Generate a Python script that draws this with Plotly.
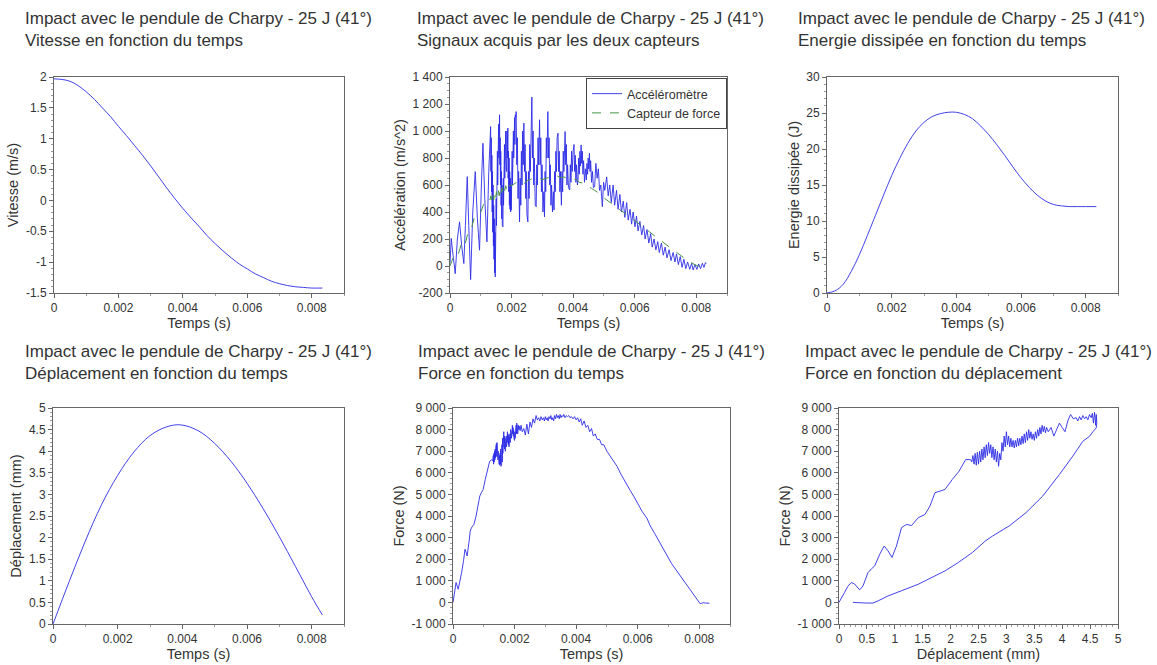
import numpy as np
import plotly.graph_objects as go

# ---------------- DATA ----------------
title_main = "Impact avec le pendule de Charpy - 25 J (41°)"
subtitles = ["Vitesse en fonction du temps", "Signaux acquis par les deux capteurs",
             "Energie dissipée en fonction du temps", "Déplacement en fonction du temps",
             "Force en fonction du temps", "Force en fonction du déplacement"]

# Velocity (m/s) vs time (ms)
vit_t = [0, 0.25, 0.5, 0.75, 1.0, 1.25, 1.5, 1.75, 2.0, 2.25, 2.5, 2.75, 3.0, 3.25, 3.5, 3.75, 4.0,
         4.25, 4.5, 4.75, 5.0, 5.25, 5.5, 5.75, 6.0, 6.25, 6.5, 6.75, 7.0, 7.25, 7.5, 7.75, 8.0, 8.33]
vit_v = [1.97, 1.96, 1.93, 1.86, 1.76, 1.64, 1.50, 1.36, 1.20, 1.05, 0.89, 0.73, 0.56, 0.38, 0.20, 0.03, -0.13,
         -0.28, -0.42, -0.57, -0.70, -0.82, -0.93, -1.03, -1.11, -1.19, -1.25, -1.31, -1.35, -1.38, -1.40, -1.41, -1.42, -1.42]

# Energy (J) vs time (ms)
ener_t = [0, 0.25, 0.5, 0.75, 1.0, 1.25, 1.5, 1.75, 2.0, 2.25, 2.5, 2.75, 3.0, 3.25, 3.5, 3.75, 4.0,
          4.25, 4.5, 4.75, 5.0, 5.25, 5.5, 5.75, 6.0, 6.25, 6.5, 6.75, 7.0, 7.25, 7.5, 7.75, 8.0, 8.33]
ener_v = [0, 0.3, 1.2, 3.0, 5.3, 8.0, 10.8, 13.6, 16.3, 18.7, 20.8, 22.5, 23.7, 24.5, 24.9, 25.1, 25.1,
          24.8, 24.2, 23.2, 22.0, 20.6, 19.1, 17.5, 16.0, 14.7, 13.6, 12.8, 12.3, 12.1, 12.0, 12.0, 12.0, 12.0]

# Displacement (mm) vs time (ms)
depl_t = [0, 0.5, 1.0, 1.5, 2.0, 2.5, 3.0, 3.5, 3.95, 4.5, 5.0, 5.5, 6.0, 6.5, 7.0, 7.5, 8.0, 8.33]
depl_v = [0, 0.98, 1.92, 2.76, 3.44, 3.98, 4.36, 4.56, 4.61, 4.47, 4.18, 3.77, 3.26, 2.67, 2.02, 1.33, 0.63, 0.21]

# Accelerometer (m/s^2) vs time (ms)
acc_t = [0.00, 0.04, 0.10, 0.17, 0.24, 0.31, 0.38, 0.45, 0.50, 0.56, 0.61, 0.67, 0.74, 0.82, 0.89, 0.96,
         1.02, 1.07, 1.13, 1.20, 1.26,
         1.32, 1.33, 1.34, 1.35, 1.36, 1.37, 1.38, 1.39, 1.40, 1.41, 1.42, 1.43, 1.44, 1.45, 1.46, 1.47,
         1.48, 1.49, 1.50, 1.51, 1.52, 1.53, 1.54, 1.55, 1.56, 1.57, 1.58, 1.59, 1.60, 1.61, 1.62, 1.63,
         1.64, 1.65, 1.66, 1.67, 1.68, 1.69, 1.70, 1.71, 1.72, 1.73, 1.74, 1.75, 1.76, 1.77, 1.78, 1.79,
         1.80, 1.81, 1.82, 1.83, 1.84, 1.85, 1.86, 1.87, 1.88, 1.89, 1.90, 1.91, 1.92, 1.93, 1.94, 1.95,
         1.96, 1.97, 1.98, 1.99, 2.00, 2.01, 2.02, 2.03, 2.04, 2.05, 2.06, 2.07, 2.08, 2.09, 2.10, 2.11,
         2.12, 2.13, 2.14, 2.15,
         2.17, 2.19, 2.21, 2.23, 2.26, 2.28, 2.30, 2.32, 2.34, 2.36, 2.38, 2.40, 2.42, 2.44, 2.46, 2.48,
         2.50, 2.53, 2.55, 2.57, 2.59, 2.61, 2.63, 2.66, 2.68, 2.70, 2.72, 2.74, 2.77, 2.80, 2.82, 2.84,
         2.86, 2.88, 2.91, 2.93, 2.95, 2.97, 2.99, 3.02, 3.05, 3.07, 3.09, 3.11, 3.13, 3.15, 3.18, 3.20,
         3.22, 3.24, 3.26, 3.28, 3.30, 3.33, 3.36, 3.38, 3.40, 3.42, 3.44, 3.46, 3.48, 3.51, 3.53, 3.55,
         3.57, 3.59, 3.62, 3.64, 3.66, 3.68, 3.70, 3.72, 3.74, 3.76, 3.78, 3.80, 3.82, 3.85, 3.89, 3.91,
         3.93, 3.95, 3.97, 4.00, 4.03, 4.05, 4.07, 4.09, 4.11, 4.14, 4.16, 4.18, 4.20, 4.22, 4.24, 4.26,
         4.28, 4.30, 4.32, 4.34, 4.37, 4.40, 4.43, 4.45, 4.47, 4.49, 4.51, 4.53, 4.55, 4.57, 4.60, 4.63,
         4.66, 4.70,
         4.74, 4.78, 4.82, 4.86, 4.90, 4.95, 4.99, 5.03, 5.09, 5.14, 5.19, 5.24, 5.30, 5.35, 5.41, 5.46,
         5.52, 5.57, 5.63, 5.68, 5.74, 5.79, 5.85, 5.90, 5.95, 6.01, 6.06, 6.11, 6.17, 6.23, 6.29, 6.34,
         6.40, 6.46, 6.52, 6.57, 6.63, 6.69, 6.75, 6.80, 6.87, 6.93, 6.99, 7.05, 7.12, 7.18, 7.25, 7.31,
         7.36, 7.42, 7.48, 7.54, 7.60, 7.66, 7.72, 7.79, 7.85, 7.90, 7.96, 8.02, 8.08, 8.14, 8.20, 8.25,
         8.30, 8.33]
acc_v = [18, 204, 80, -57, 200, 327, 150, 18, 300, 662, 300, -101, 400, 699, 350, 117,
         600, 909, 500, 179, 700,
         1033, 700, 950, 550, 820, 400, 700, 250, 600, 150, 450, 50, 350, -50, 250, -81,
         350, 150, 500, 300, 700, 450, 850, 600, 950, 700, 1050, 800, 1100, 1120, 750, 950,
         600, 850, 450, 700, 350, 600, 300, 550, 290, 650, 450, 800, 550, 900, 650, 950,
         700, 1000, 750, 950, 700, 1000, 800, 950, 1021, 650, 850, 550, 800, 450, 700, 420,
         650, 400, 600, 414, 700, 500, 850, 600, 950, 700, 1000, 800, 1050, 850, 1100, 900,
         1120, 950, 1100, 1144,
         750, 950, 500, 700, 327, 650, 450, 850, 600, 1000, 750, 1058, 700, 900, 500, 700,
         380, 327, 700, 500, 900, 700, 1100, 1251, 800, 1000, 600, 800, 450, 439, 750, 600,
         950, 750, 1083, 750, 950, 550, 750, 400, 550, 365, 700, 550, 950, 800, 1144, 800,
         950, 600, 750, 450, 600, 400, 550, 414, 700, 550, 850, 700, 950, 984, 700, 850,
         550, 700, 450, 700, 550, 850, 700, 950, 996, 750, 900, 600, 750, 580, 563, 750,
         620, 850, 700, 850, 900, 700, 820, 620, 750, 600, 637, 800, 680, 850, 740, 897,
         760, 850, 680, 780, 620, 720, 637, 760, 680, 800, 720, 835, 700, 780, 620, 700,
         580, 587,
         760, 650, 720, 560, 600, 439, 620, 560, 660, 520, 600, 470, 600, 450, 560, 420,
         530, 400, 480, 360, 470, 340, 420, 310, 400, 290, 370, 260, 330, 230, 300, 200,
         270, 170, 240, 140, 200, 120, 180, 100, 170, 80, 140, 60, 120, 40, 100, 30,
         90, 10, 70, -10, 50, -20, 30, -25, 20, -30, 10, -25, 15, -20, 20, -10,
         25, 20]

# Force sensor expressed as acceleration (m/s^2) vs time (ms)
cap_t = [0.00, 0.10, 0.20, 0.30, 0.40, 0.50, 0.60, 0.70, 0.80, 0.90, 1.00, 1.10, 1.20, 1.25, 1.30, 1.33,
         1.36, 1.39, 1.42, 1.45, 1.48, 1.51, 1.54, 1.57, 1.60, 1.63, 1.66, 1.69, 1.72, 1.75, 1.78, 1.81,
         1.84, 1.87, 1.90, 1.95, 2.00, 2.10, 2.20, 2.30, 2.40, 2.50, 2.60, 2.70, 2.80, 2.90, 3.00, 3.10,
         3.20, 3.30, 3.40, 3.50, 3.60, 3.70, 3.80, 3.90, 4.00, 4.10, 4.20, 4.30, 4.40, 4.50, 4.60, 4.70,
         4.80, 5.00, 5.25, 5.50, 5.75, 6.00, 6.25, 6.50, 6.75, 7.00, 7.25, 7.50, 7.75, 8.00, 8.15, 8.33]
cap_v = [0, 60, 50, 110, 190, 170, 260, 280, 370, 380, 400, 460, 495, 500, 490, 520,
         480, 530, 490, 540, 500, 550, 510, 560, 520, 575, 540, 580, 550, 590, 560, 595,
         570, 600, 580, 600, 595, 610, 625, 605, 610, 630, 640, 650, 645, 650, 640, 650,
         655, 650, 660, 665, 655, 660, 650, 655, 645, 640, 620, 615, 600, 590, 575, 560,
         545, 505, 460, 420, 380, 338, 295, 250, 205, 163, 120, 76, 35, 5, -5, 0]

# Force (N) vs time (ms)
force_t = [0.00, 0.05, 0.10, 0.17, 0.22, 0.28, 0.34, 0.39, 0.43, 0.46, 0.52, 0.56, 0.60, 0.68, 0.75, 0.82,
           0.87, 0.93, 0.98, 1.05, 1.12, 1.19, 1.25, 1.29, 1.31, 1.32, 1.33, 1.34, 1.35, 1.36, 1.37, 1.38,
           1.39, 1.40, 1.41, 1.42, 1.43, 1.44, 1.45, 1.46, 1.47, 1.48, 1.49, 1.50, 1.51, 1.52, 1.53, 1.54,
           1.55, 1.56, 1.57, 1.58, 1.59, 1.60, 1.61, 1.62, 1.63, 1.64, 1.65, 1.66, 1.67, 1.68, 1.69, 1.70,
           1.71, 1.72, 1.73, 1.74, 1.75, 1.76, 1.77, 1.78, 1.79, 1.80, 1.81, 1.82, 1.83, 1.84, 1.85, 1.86,
           1.87, 1.88, 1.89, 1.90, 1.91, 1.92, 1.93, 1.94, 1.95, 1.96, 1.97, 1.98, 1.99, 2.00, 2.01, 2.02,
           2.03, 2.04, 2.05, 2.06, 2.07, 2.08, 2.09, 2.10, 2.11, 2.12, 2.13, 2.14, 2.16, 2.18, 2.21, 2.25,
           2.30, 2.35, 2.40, 2.45, 2.50, 2.55, 2.60, 2.65, 2.70, 2.74, 2.78, 2.82, 2.86, 2.90, 2.94, 2.97,
           3.00, 3.03, 3.06, 3.09, 3.12, 3.15, 3.18, 3.21, 3.24, 3.27, 3.30, 3.33, 3.36, 3.39, 3.42, 3.45,
           3.48, 3.51, 3.54, 3.57, 3.60, 3.64, 3.68, 3.72, 3.76, 3.80, 3.85, 3.90, 3.95, 4.00, 4.05, 4.10,
           4.15, 4.20, 4.26, 4.32, 4.38, 4.44, 4.50, 4.56, 4.62, 4.69, 4.76, 4.83, 4.90, 5.00, 5.10, 5.20,
           5.33, 5.45, 5.60, 5.75, 5.87, 6.00, 6.15, 6.30, 6.41, 6.55, 6.70, 6.85, 6.95, 7.10, 7.25, 7.35,
           7.48, 7.60, 7.75, 7.88, 7.97, 8.03, 8.08, 8.13, 8.20, 8.27, 8.33]
force_v = [0, 400, 920, 610, 900, 1380, 1900, 2460, 2300, 2150, 2800, 3300, 3460, 3610, 4000, 4600,
           4920, 5100, 5230, 5700, 6200, 6530, 6600, 6550, 6800, 6400, 6900, 6500, 7000, 6600, 7100, 6700,
           7200, 6800, 7350, 6750, 7400, 6900, 7200, 6600, 7000, 6500, 6900, 6400, 6800, 6350, 6900, 6400,
           7100, 6300, 7000, 6400, 7300, 6500, 7600, 6900, 7800, 7100, 7900, 7200, 7700, 7100, 7600, 7000,
           7500, 7100, 7700, 7200, 7800, 7300, 7900, 7400, 7800, 7300, 7700, 7200, 7600, 7300, 7800, 7400,
           8000, 7500, 7900, 7600, 8100, 7700, 8200, 7800, 8100, 7700, 8000, 7600, 7900, 7500, 7900, 7600,
           8000, 7700, 8200, 7800, 8300, 7900, 8200, 7800, 8100, 7900, 8200, 8000, 8150, 7950, 8200, 7900,
           8050, 7750, 8250, 7800, 8350, 8100, 8500, 8300, 8650, 8450, 8550, 8400, 8600, 8450, 8550, 8400,
           8600, 8450, 8550, 8400, 8600, 8500, 8650, 8450, 8550, 8400, 8650, 8500, 8700, 8550, 8650, 8500,
           8700, 8550, 8650, 8600, 8700, 8550, 8650, 8600, 8650, 8550, 8600, 8500, 8600, 8450, 8550, 8350,
           8500, 8200, 8400, 8100, 8200, 7900, 8050, 7700, 7800, 7540, 7550, 7300, 7300, 7000, 6800, 6550,
           6300, 5950, 5550, 5200, 4920, 4600, 4200, 3900, 3540, 3200, 2800, 2400, 2150, 1800, 1500, 1300,
           1000, 750, 450, 200, 30, -60, -40, -10, -30, -20, -40]

# Force (N) vs displacement (mm)
fd_x = [0.00, 0.05, 0.10, 0.16, 0.22, 0.28, 0.33, 0.37, 0.43, 0.52, 0.58, 0.64, 0.73, 0.81, 0.88, 0.95,
        1.03, 1.12, 1.21, 1.30, 1.42, 1.54, 1.63, 1.72, 1.81, 1.90, 2.03, 2.15, 2.27, 2.36, 2.38, 2.40,
        2.42, 2.44, 2.46, 2.48, 2.50, 2.52, 2.54, 2.56, 2.58, 2.60, 2.62, 2.64, 2.66, 2.68, 2.70, 2.72,
        2.74, 2.76, 2.78, 2.80, 2.82, 2.84, 2.86, 2.88, 2.90, 2.92, 2.94, 2.96, 2.98, 3.00, 3.02, 3.04,
        3.06, 3.08, 3.10, 3.12, 3.14, 3.16, 3.18, 3.20, 3.22, 3.24, 3.26, 3.28, 3.30, 3.32, 3.34, 3.36,
        3.38, 3.40, 3.42, 3.44, 3.46, 3.48, 3.50, 3.52, 3.54, 3.56, 3.58, 3.60, 3.62, 3.64, 3.66, 3.68,
        3.70, 3.72, 3.75, 3.80, 3.85, 3.90, 3.95, 4.00, 4.05, 4.10, 4.15, 4.20, 4.25, 4.28, 4.31, 4.34,
        4.37, 4.40, 4.43, 4.46, 4.49, 4.52, 4.54, 4.56, 4.58, 4.60, 4.61, 4.62, 4.61, 4.55, 4.49, 4.37,
        4.19, 3.95, 3.65, 3.35, 3.05, 2.75, 2.62, 2.39, 2.14, 1.90, 1.66, 1.42, 1.12, 0.88, 0.70, 0.61,
        0.49, 0.40, 0.25]
fd_y = [0, 200, 460, 750, 920, 850, 680, 580, 760, 1380, 1550, 1690, 2230, 2610, 2380, 2080,
        2610, 3460, 3610, 3560, 3920, 4070, 4460, 5080, 5150, 5230, 5690, 6070, 6610, 6610, 6500, 6800,
        6400, 6900, 6350, 6950, 6400, 7000, 6500, 7100, 6600, 7200, 6700, 7300, 6800, 7400, 6900, 7300,
        6700, 7200, 6600, 7100, 6500, 7000, 6300, 6900, 6600, 7400, 7000, 7700, 7200, 7900, 7300, 7700,
        7200, 7600, 7200, 7500, 7150, 7500, 7200, 7600, 7250, 7600, 7300, 7700, 7350, 7800, 7400, 7900,
        7500, 8000, 7600, 7900, 7550, 7800, 7500, 7900, 7600, 8000, 7700, 8100, 7800, 8200, 7900, 8150,
        7850, 8100, 7900, 8100, 7700, 8000, 8300, 8100, 7900, 8400, 8700, 8500, 8550, 8400, 8600, 8450,
        8650, 8500, 8600, 8450, 8700, 8550, 8750, 8300, 8800, 8200, 8700, 8300, 8080, 7900, 7690, 7460,
        6770, 5920, 4920, 4150, 3540, 3070, 2840, 2310, 1850, 1460, 1150, 840, 540, 300, 70, -30,
        -30, -30, 0]

# Tick values / labels
t_ticks = [0, 0.002, 0.004, 0.006, 0.008]
t_labels = ["0", "0.002", "0.004", "0.006", "0.008"]
vit_ticks = [-1.5, -1, -0.5, 0, 0.5, 1, 1.5, 2]
vit_labels = ["-1.5", "-1", "-0.5", "0", "0.5", "1", "1.5", "2"]
acc_ticks = [-200, 0, 200, 400, 600, 800, 1000, 1200, 1400]
acc_labels = ["-200", "0", "200", "400", "600", "800", "1 000", "1 200", "1 400"]
ener_ticks = [0, 5, 10, 15, 20, 25, 30]
ener_labels = ["0", "5", "10", "15", "20", "25", "30"]
depl_ticks = [0, 0.5, 1, 1.5, 2, 2.5, 3, 3.5, 4, 4.5, 5]
depl_labels = ["0", "0.5", "1", "1.5", "2", "2.5", "3", "3.5", "4", "4.5", "5"]
force_ticks = [-1000, 0, 1000, 2000, 3000, 4000, 5000, 6000, 7000, 8000, 9000]
force_labels = ["-1 000", "0", "1 000", "2 000", "3 000", "4 000", "5 000", "6 000", "7 000", "8 000", "9 000"]

# ---------------- FIGURE ----------------
W, H = 1157, 665
BLUE = "rgb(45,45,230)"
GREEN = "rgb(70,150,70)"
FONT = "Arial, 'Liberation Sans', sans-serif"
TXT = "#333"

def ms(a):
    return np.array(a) / 1000.0

fig = go.Figure()
fig.add_trace(go.Scatter(x=ms(vit_t), y=vit_v, mode="lines", line=dict(color=BLUE, width=0.9, shape="spline"),
                         showlegend=False, xaxis="x", yaxis="y"))
fig.add_trace(go.Scatter(x=ms(acc_t), y=acc_v, mode="lines", name="Accéléromètre",
                         line=dict(color=BLUE, width=0.9), xaxis="x2", yaxis="y2"))
fig.add_trace(go.Scatter(x=ms(cap_t), y=cap_v, mode="lines", name="Capteur de force",
                         line=dict(color=GREEN, width=1, dash="dash"), xaxis="x2", yaxis="y2"))
fig.add_trace(go.Scatter(x=ms(ener_t), y=ener_v, mode="lines", line=dict(color=BLUE, width=0.9, shape="spline"),
                         showlegend=False, xaxis="x3", yaxis="y3"))
fig.add_trace(go.Scatter(x=ms(depl_t), y=depl_v, mode="lines", line=dict(color=BLUE, width=0.9, shape="spline"),
                         showlegend=False, xaxis="x4", yaxis="y4"))
fig.add_trace(go.Scatter(x=ms(force_t), y=force_v, mode="lines", line=dict(color=BLUE, width=0.9),
                         showlegend=False, xaxis="x5", yaxis="y5"))
fig.add_trace(go.Scatter(x=fd_x, y=fd_y, mode="lines", line=dict(color=BLUE, width=0.9),
                         showlegend=False, xaxis="x6", yaxis="y6"))

# plot areas in pixels: (left, right, top, bottom)
areas = [(54, 344, 77, 293), (450, 727, 77, 293), (827, 1118, 77, 293),
         (53, 344, 408, 624), (453, 730, 408, 624), (839, 1118, 408, 624)]

xspecs = [
    dict(range=[0, 0.009], tickvals=t_ticks, ticktext=t_labels, title="Temps (s)", minor_dtick=0.001),
    dict(range=[0, 0.009], tickvals=t_ticks, ticktext=t_labels, title="Temps (s)", minor_dtick=0.001),
    dict(range=[0, 0.009], tickvals=t_ticks, ticktext=t_labels, title="Temps (s)", minor_dtick=0.001),
    dict(range=[0, 0.009], tickvals=t_ticks, ticktext=t_labels, title="Temps (s)", minor_dtick=0.001),
    dict(range=[0, 0.009], tickvals=t_ticks, ticktext=t_labels, title="Temps (s)", minor_dtick=0.001),
    dict(range=[0, 5], tickvals=depl_ticks, ticktext=depl_labels, title="Déplacement (mm)", minor_dtick=0.1),
]
yspecs = [
    dict(range=[-1.5, 2], tickvals=vit_ticks, ticktext=vit_labels, title="Vitesse (m/s)", minor_dtick=0.1),
    dict(range=[-200, 1400], tickvals=acc_ticks, ticktext=acc_labels, title="Accélération (m/s^2)", minor_dtick=50),
    dict(range=[0, 30], tickvals=ener_ticks, ticktext=ener_labels, title="Energie dissipée (J)", minor_dtick=1),
    dict(range=[0, 5], tickvals=depl_ticks, ticktext=depl_labels, title="Déplacement (mm)", minor_dtick=0.1),
    dict(range=[-1000, 9000], tickvals=force_ticks, ticktext=force_labels, title="Force (N)", minor_dtick=250),
    dict(range=[-1000, 9000], tickvals=force_ticks, ticktext=force_labels, title="Force (N)", minor_dtick=250),
]

axis_common = dict(showline=True, linecolor="#666", linewidth=1, mirror=True, showgrid=False, zeroline=False,
                   ticks="outside", ticklen=4, tickcolor="#666", tickfont=dict(size=12, color=TXT, family=FONT),
                   automargin=False)

layout = {}
for i, ((l, r, t, b), xs, ys) in enumerate(zip(areas, xspecs, yspecs)):
    n = "" if i == 0 else str(i + 1)
    xs = dict(xs); ys = dict(ys)
    xmd = xs.pop("minor_dtick"); ymd = ys.pop("minor_dtick")
    xt = xs.pop("title"); yt = ys.pop("title")
    layout["xaxis" + n] = dict(axis_common, domain=[l / W, r / W], anchor="y" + n,
                               title=dict(text=xt, font=dict(size=14.5, color=TXT, family=FONT), standoff=3),
                               minor=dict(ticks="outside", ticklen=2, dtick=xmd, tickcolor="#999"), **xs)
    layout["yaxis" + n] = dict(axis_common, domain=[1 - b / H, 1 - t / H], anchor="x" + n,
                               title=dict(text=yt, font=dict(size=14.5, color=TXT, family=FONT), standoff=3),
                               minor=dict(ticks="outside", ticklen=2, dtick=ymd, tickcolor="#999"), **ys)

# Titles as annotations
title_pos = [(23, 18, 41), (415, 18, 41), (796, 18, 41), (23, 352, 373), (416, 352, 373), (803, 352, 373)]
annotations = []
for (x, y1, y2), sub in zip(title_pos, subtitles):
    for yy, txt in ((y1, title_main), (y2, sub)):
        annotations.append(dict(text=txt, x=x / W, y=1 - yy / H, xref="paper", yref="paper",
                                xanchor="left", yanchor="middle", showarrow=False,
                                font=dict(size=17, color=TXT, family=FONT)))

fig.update_layout(
    width=W, height=H, margin=dict(l=0, r=0, t=0, b=0),
    paper_bgcolor="white", plot_bgcolor="white",
    font=dict(family=FONT, color=TXT),
    annotations=annotations,
    legend=dict(x=727 / W, y=1 - 78 / H, xanchor="right", yanchor="top", bgcolor="white",
                bordercolor="#444", borderwidth=1, font=dict(size=12.5, family=FONT, color=TXT),
                tracegroupgap=0, itemwidth=30),
    **layout,
)

fig.write_html("out.html")
